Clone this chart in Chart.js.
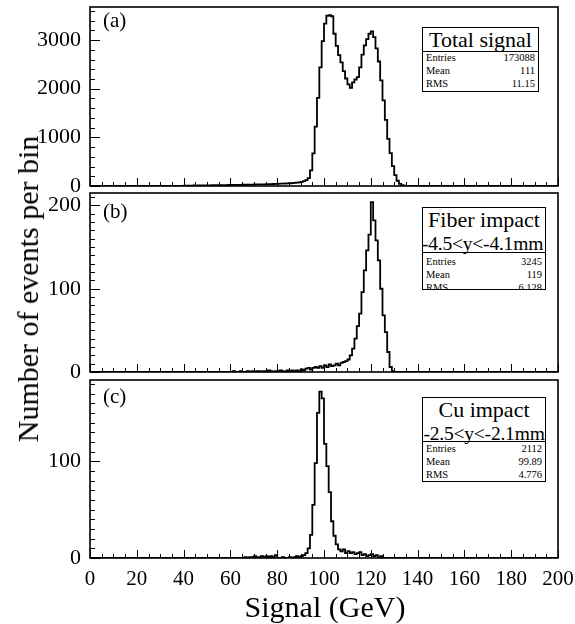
<!DOCTYPE html>
<html>
<head>
<meta charset="utf-8">
<script src="https://cdn.jsdelivr.net/npm/chart.js@4.4.1/dist/chart.umd.min.js"></script>
<style>
  html, body { margin: 0; padding: 0; background: #fff; }
  #wrap { position: relative; width: 575px; height: 624px; overflow: hidden;
          font-family: "Liberation Serif", "Times New Roman", "DejaVu Serif", serif; color: #000; }
  canvas { position: absolute; left: 0; top: 0; }
  .lbl { position: absolute; font-size: 21px; line-height: 1; white-space: nowrap; }
  .ytitle { position: absolute; left: 28px; top: 289px; font-size: 30px; line-height: 1; white-space: nowrap;
            transform: translate(-50%, -50%) rotate(-90deg); }
  .xtitle { position: absolute; left: 325px; top: 607px; font-size: 30px; line-height: 1; white-space: nowrap;
            transform: translate(-50%, -50%); }
  .box { position: absolute; background: #fff; border: 1.5px solid #000; box-sizing: border-box; overflow: hidden; }
  .box .ttl { border-bottom: 1.5px solid #000; text-align: center; white-space: nowrap; line-height: 1.05; }
  .box .row { display: flex; justify-content: space-between; font-size: 10.5px; line-height: 13px; padding: 0 3px 0 3px; }
</style>
</head>
<body>
<div id="wrap">
  <canvas id="ca" width="575" height="624"></canvas>
  <canvas id="cb" width="575" height="624"></canvas>
  <canvas id="cc" width="575" height="624"></canvas>

  <div class="lbl" style="left:103px; top:10px;">(a)</div>
  <div class="lbl" style="left:103px; top:201px;">(b)</div>
  <div class="lbl" style="left:103px; top:386px;">(c)</div>

  <div class="box" style="left:422px; top:27px; width:117px; height:65px;">
    <div class="ttl" style="font-size:22px; height:23px;">Total signal</div>
    <div class="row" style="margin-top:-1px;"><span>Entries</span><span>173088</span></div>
    <div class="row"><span>Mean</span><span>111</span></div>
    <div class="row"><span>RMS</span><span>11.15</span></div>
  </div>
  <div class="box" style="left:422px; top:207px; width:124px; height:83px;">
    <div class="ttl" style="font-size:22px; height:44px;">Fiber impact<br><span style="font-size:19.5px; display:inline-block; margin-left:-3px; letter-spacing:-0.2px;">-4.5&lt;y&lt;-4.1mm</span></div>
    <div class="row" style="margin-top:2px;"><span>Entries</span><span>3245</span></div>
    <div class="row"><span>Mean</span><span>119</span></div>
    <div class="row"><span>RMS</span><span>6.128</span></div>
  </div>
  <div class="box" style="left:422px; top:397px; width:124px; height:85px;">
    <div class="ttl" style="font-size:22px; height:43px;">Cu impact<br><span style="font-size:19.5px; display:inline-block; letter-spacing:-0.2px;">-2.5&lt;y&lt;-2.1mm</span></div>
    <div class="row"><span>Entries</span><span>2112</span></div>
    <div class="row"><span>Mean</span><span>99.89</span></div>
    <div class="row"><span>RMS</span><span>4.776</span></div>
  </div>

  <div class="ytitle">Number of events per bin</div>
  <div class="xtitle">Signal (GeV)</div>
</div>

<script>
// ---------------- DATA ----------------
const xTickLabels = [0, 20, 40, 60, 80, 100, 120, 140, 160, 180, 200];
const binWidthGeV = 1;

// (a) Total signal: counts per 1 GeV bin starting at aStartGeV
const aStartGeV = 40;
const aCounts = [
  6, 8, 7, 9, 10, 9, 11, 12, 11, 13,             // 40-49
  14, 13, 15, 16, 17, 16, 18, 19, 20, 21,        // 50-59
  22, 23, 22, 24, 25, 26, 27, 27, 28, 30,        // 60-69
  31, 32, 33, 34, 35, 37, 38, 40, 41, 43,        // 70-79
  45, 47, 49, 51, 54, 57, 60, 64, 68, 73,        // 80-89
  85, 100, 120, 160, 320, 670, 1220, 1810, 2440, 2980,        // 90-99
  3340, 3500, 3510, 3490, 3130, 2880, 2690, 2540, 2360, 2210, // 100-109
  2090, 2020, 2130, 2190, 2240, 2440, 2700, 2890, 3020, 3130, // 110-119
  3180, 3060, 2830, 2560, 2170, 1760, 1360, 970, 675, 410,    // 120-129
  225, 108, 44, 15, 5                                          // 130-134
];
const aYTicks = [0, 1000, 2000, 3000];

// (b) Fiber impact
const bStartGeV = 60;
const bCounts = [
  0, 1, 0, 0, 1, 0, 0, 1, 0, 1,        // 60-69
  0, 1, 1, 0, 1, 0, 2, 1, 0, 1,        // 70-79
  1, 2, 1, 0, 2, 1, 2, 1, 2, 1,        // 80-89
  3, 2, 4, 5, 3, 5, 6, 5, 7, 5,        // 90-99
  8, 6, 9, 7, 8, 10, 8, 11, 12, 13,    // 100-109
  15, 20, 28, 40, 55, 70, 96, 122, 146, 165, // 110-119
  204, 182, 158, 134, 100, 68, 48, 24, 6, 1  // 120-129
];
const bYTicks = [0, 100, 200];

// (c) Cu impact
const cStartGeV = 60;
const cCounts = [
  0, 0, 0, 0, 0, 0, 1, 0, 1, 1,        // 60-69
  2, 1, 1, 2, 1, 2, 1, 2, 1, 3,        // 70-79
  0, 0, 1, 0, 0, 1, 0, 1, 2, 1,        // 80-89
  2, 3, 5, 10, 24, 55, 98, 150, 172, 165,   // 90-99
  118, 95, 68, 38, 23, 14, 9, 7, 9, 5,      // 100-109
  7, 5, 6, 4, 5, 6, 3, 4, 2, 3,             // 110-119
  4, 2, 3, 1, 2                             // 120-124
];
const cYTicks = [0, 100];

// ---------------- helpers ----------------
function histPoints(start, counts) {
  const pts = [{ x: xTickLabels[0], y: 0 }];
  counts.forEach((c, i) => pts.push({ x: start + i * binWidthGeV, y: c }));
  pts.push({ x: start + counts.length * binWidthGeV, y: 0 });
  pts.push({ x: xTickLabels[xTickLabels.length - 1], y: 0 });
  return pts;
}

const FONT = '"Liberation Serif", "Times New Roman", serif';

const rootFrame = {
  id: 'rootFrame',
  afterDraw(chart, args, opts) {
    const { ctx, chartArea: a, scales } = chart;
    const xs = scales.x, ys = scales.y;
    ctx.save();
    ctx.strokeStyle = '#000';
    ctx.lineWidth = 1;
    for (let v = xs.min; v <= xs.max + 1e-9; v += 5) {
      const px = Math.round(xs.getPixelForValue(v)) + 0.5;
      const len = (v % 20 === 0) ? 8 : 4;
      ctx.beginPath(); ctx.moveTo(px, a.bottom); ctx.lineTo(px, a.bottom - len); ctx.stroke();
    }
    const minor = opts.yMinor, major = opts.yMajor;
    for (let v = 0; v <= ys.max + 1e-9; v += minor) {
      const py = Math.round(ys.getPixelForValue(v)) + 0.5;
      const isMaj = Math.abs(v / major - Math.round(v / major)) < 1e-6;
      const len = isMaj ? 10 : 5;
      ctx.beginPath(); ctx.moveTo(a.left, py); ctx.lineTo(a.left + len, py); ctx.stroke();
    }
    ctx.lineWidth = 1.6;
    ctx.strokeRect(a.left, a.top, a.right - a.left, a.bottom - a.top);
    ctx.restore();
  }
};

function makePanel(id, points, ymax, yTicks, yMinor, area, showX) {
  return new Chart(document.getElementById(id), {
    type: 'line',
    data: { datasets: [{ data: points, borderColor: '#000', borderWidth: 1.8,
                         pointRadius: 0, stepped: 'before', fill: false }] },
    options: {
      responsive: false, animation: false, devicePixelRatio: 1,
      parsing: false, normalized: true,
      layout: { padding: { left: 0, top: area.top, right: 575 - area.right,
                           bottom: showX ? 0 : 624 - area.bottom } },
      plugins: { legend: { display: false }, tooltip: { enabled: false },
                 rootFrame: { yMinor: yMinor, yMajor: yTicks[1] - yTicks[0] } },
      scales: {
        x: {
          type: 'linear', min: xTickLabels[0], max: xTickLabels[xTickLabels.length - 1],
          grid: { display: false, drawTicks: false }, border: { display: false },
          afterBuildTicks: s => { s.ticks = xTickLabels.map(v => ({ value: v })); },
          ticks: { display: showX, autoSkip: false, maxRotation: 0, color: '#000',
                   font: { family: FONT, size: 21 }, padding: 9,
                   callback: v => String(v) },
          afterFit: s => { s.height = showX ? 624 - area.bottom : 0;
                           s.paddingLeft = 0; s.paddingRight = 0; }
        },
        y: {
          type: 'linear', min: 0, max: ymax,
          grid: { display: false, drawTicks: false }, border: { display: false },
          afterBuildTicks: s => { s.ticks = yTicks.map(v => ({ value: v })); },
          ticks: { color: '#000', font: { family: FONT, size: 22 }, padding: 9,
                   callback: v => String(v) },
          afterFit: s => { s.width = area.left; s.paddingTop = 0; s.paddingBottom = 0; }
        }
      }
    },
    plugins: [rootFrame]
  });
}

makePanel('ca', histPoints(aStartGeV, aCounts), 3680, aYTicks, 200,
          { left: 90, right: 558, top: 7, bottom: 186 }, false);
makePanel('cb', histPoints(bStartGeV, bCounts), 215, bYTicks, 10,
          { left: 90, right: 558, top: 193, bottom: 372 }, false);
makePanel('cc', histPoints(cStartGeV, cCounts), 184, cYTicks, 10,
          { left: 90, right: 558, top: 380, bottom: 558 }, true);
</script>
</body>
</html>
